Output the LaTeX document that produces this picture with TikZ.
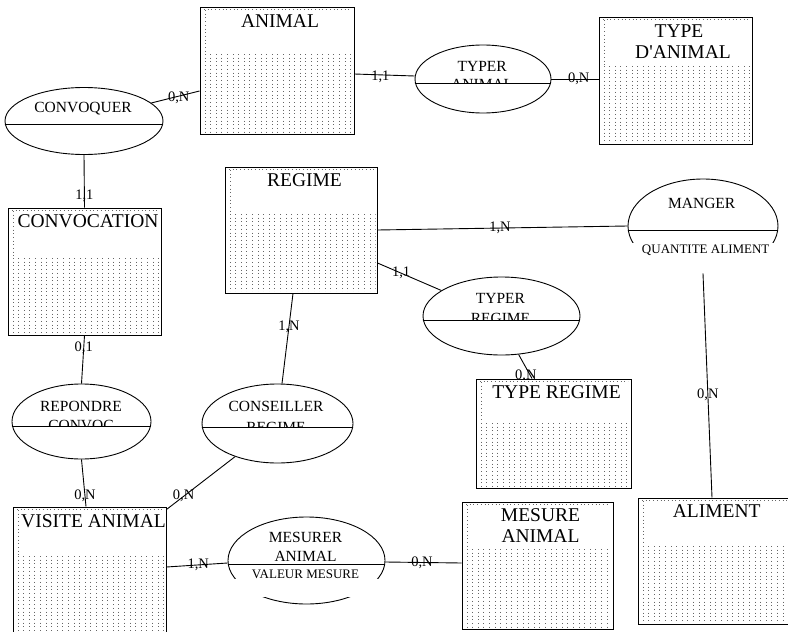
\documentclass[tikz,border=0pt]{standalone}
\usepackage{fontspec}
\setmainfont{Liberation Serif}[Ligatures=TeXOff]
\usetikzlibrary{shapes.geometric}
\tikzset{
  ent/.style={draw, rectangle, line width=1pt, inner sep=0pt, fill=white},
  dotline/.style={black!60, line width=0.9pt, dash pattern=on 0.9pt off 2.8pt},
  etitle/.style={anchor=base, inner sep=0pt, font=\fontsize{19.5}{21}\selectfont},
  assoc/.style={ellipse, line width=0.9pt, inner sep=0pt},
  atext/.style={anchor=base, inner sep=0pt, font=\fontsize{15.5}{17.5}\selectfont},
  attr/.style={anchor=base, inner sep=0pt, font=\fontsize{13}{15}\selectfont},
  card/.style={inner sep=0pt, font=\fontsize{14.5}{16}\selectfont},
  link/.style={line width=0.9pt},
  divider/.style={line width=0.9pt},
}
% x1 y1 x2 y2 ydot
\newcommand\entdots[5]{%
  \begin{scope}
    \clip ({#1+3},{#5}) rectangle ({#3-1.5},{#4-1.5});
    \foreach \i in {0,...,28} {\draw[dotline] ({#1+5+5.6*\i},{#5+1}) -- ({#1+5+5.6*\i},{#4});}
  \end{scope}
  \draw[dotline] ({#1+5},{#2+3}) -- ({#1+5},{#5});
  \draw[dotline] ({#1+4},{#2+2.5}) -- ({#3-3},{#2+2.5});
}
\begin{document}
\begin{tikzpicture}[x=1pt,y=-1pt]
\clip (0,0) rectangle (788,632);
\fill[white] (0,0) rectangle (788,632);

% ---------- entities ----------
\node[ent, minimum width=154pt, minimum height=127pt] (animal) at (277,70.5) {};
\entdots{200}{7}{354}{134}{53}
\node[etitle] (animalT) at (280,27.5) {ANIMAL};

\node[ent, minimum width=153pt, minimum height=127pt] (typedanimal) at (675.5,80.5) {};
\entdots{599}{17}{752}{144}{65}
\node[etitle] (typedanimalT1) at (679,37.5) {TYPE};
\node[etitle] (typedanimalT2) at (683,58.5) {D'ANIMAL};

\node[ent, minimum width=153pt, minimum height=127pt] (convocation) at (84.5,271.5) {};
\entdots{8}{208}{161}{335}{257}
\node[etitle] (convocationT) at (88,227.7) {CONVOCATION};

\node[ent, minimum width=152pt, minimum height=126pt] (regime) at (301,230) {};
\entdots{225}{167}{377}{293}{213}
\node[etitle] (regimeT) at (304.5,186) {REGIME};

\node[ent, minimum width=155pt, minimum height=109pt] (typeregime) at (553.5,433.5) {};
\entdots{476}{379}{631}{488}{422}
\node[etitle] (typeregimeT) at (556.5,398) {TYPE REGIME};

\node[ent, minimum width=153pt, minimum height=127pt] (visite) at (89.5,570.5) {};
\entdots{13}{507}{166}{634}{555}
\node[etitle] (visiteT) at (93.5,527) {VISITE ANIMAL};

\node[ent, minimum width=151pt, minimum height=127pt] (mesure) at (537.5,565.5) {};
\entdots{462}{502}{613}{629}{548}
\node[etitle] (mesureT1) at (540.5,521.7) {MESURE};
\node[etitle] (mesureT2) at (540.5,542.7) {ANIMAL};

\node[ent, minimum width=154pt, minimum height=126pt] (aliment) at (715,561) {};
\entdots{638}{498}{792}{624}{545}
\node[etitle] (alimentT) at (716.7,517) {ALIMENT};

% ---------- associations ----------
\node[assoc, draw, minimum width=158pt, minimum height=67pt] (convoquer) at (84,121) {};
\draw[divider] ([yshift=-3pt]convoquer.west) -- ([yshift=-3pt]convoquer.east);
\node[atext] (convoquerT) at (83,112) {CONVOQUER};

\node[assoc, draw, minimum width=136pt, minimum height=68pt] (typera) at (483,79) {};
\draw[divider] ([yshift=-4pt]typera.west) -- ([yshift=-4pt]typera.east);
\node[atext] (typeraT1) at (482.2,71) {TYPER};
\begin{scope}
  \clip (typera.west |- typera.north) rectangle ([yshift=-3.6pt]typera.east);
  \node[atext] (typeraT2) at (482.2,89.5) {ANIMAL};
\end{scope}

\node[assoc, minimum width=150pt, minimum height=94pt] (manger) at (703,226) {};
\begin{scope}
  \clip (600,150) rectangle (788,242);
  \draw[line width=0.9pt] (manger.center) ellipse [x radius=75pt, y radius=47pt];
\end{scope}
\draw[divider] ([yshift=-4pt]manger.west) -- ([yshift=-4pt]manger.east);
\node[atext] (mangerT) at (701.7,208) {MANGER};
\node[attr] (mangerA) at (705.7,253.3) {QUANTITE ALIMENT};

\node[assoc, draw, minimum width=157pt, minimum height=78pt] (typerr) at (501.5,316) {};
\draw[divider] ([yshift=-4pt]typerr.west) -- ([yshift=-4pt]typerr.east);
\node[atext] (typerrT1) at (500.5,303) {TYPER};
\begin{scope}
  \clip (typerr.west |- typerr.north) rectangle ([yshift=-3.6pt]typerr.east);
  \node[atext] (typerrT2) at (500.5,323.5) {REGIME};
\end{scope}

\node[assoc, draw, minimum width=139pt, minimum height=75pt] (repondre) at (81.5,421.5) {};
\draw[divider] ([yshift=-4.5pt]repondre.west) -- ([yshift=-4.5pt]repondre.east);
\node[atext] (repondreT1) at (81,411) {REPONDRE};
\begin{scope}
  \clip (repondre.west |- repondre.north) rectangle ([yshift=-4.1pt]repondre.east);
  \node[atext] (repondreT2) at (81,430.5) {CONVOC};
\end{scope}

\node[assoc, draw, minimum width=151pt, minimum height=79pt] (conseiller) at (277.5,423.5) {};
\draw[divider] ([yshift=-3.5pt]conseiller.west) -- ([yshift=-3.5pt]conseiller.east);
\node[atext] (conseillerT1) at (276,411) {CONSEILLER};
\begin{scope}
  \clip (conseiller.west |- conseiller.north) rectangle ([yshift=-3.1pt]conseiller.east);
  \node[atext] (conseillerT2) at (276,432) {REGIME};
\end{scope}

\node[assoc, minimum width=157pt, minimum height=87pt] (mesurer) at (306.5,560.5) {};
\begin{scope}
  \clip (200,500) rectangle (420,578);
  \draw[line width=0.9pt] (mesurer.center) ellipse [x radius=78.5pt, y radius=43.5pt];
\end{scope}
\begin{scope}
  \clip (200,597) rectangle (420,632);
  \draw[line width=0.9pt] (mesurer.center) ellipse [x radius=78.5pt, y radius=43.5pt];
\end{scope}
\draw[divider] ([yshift=-3.5pt]mesurer.west) -- ([yshift=-3.5pt]mesurer.east);
\node[atext] (mesurerT1) at (305.5,542) {MESURER};
\node[atext] (mesurerT2) at (305.5,561) {ANIMAL};
\node[attr] (mesurerA) at (305.5,578.3) {VALEUR MESURE};

% ---------- connectors ----------
\draw[link] (convoquer.15) -- node[card,pos=0.57,yshift=-2pt]{0,N} ([yshift=-20.5pt]animal.west);
\draw[link] ([yshift=-3.5pt]animal.east) -- node[card,pos=0.43,yshift=-1.5pt]{1,1} ([yshift=3pt]typera.west);
\draw[link] (typera.east) -- node[card,pos=0.58]{0,N} (typedanimal.west |- typera.east);
\draw[link] (convoquer.south) -- node[card,pos=0.78]{1,1} (convocation.north);
\draw[link] (convocation.south) -- node[card,pos=0.25]{0,1} (repondre.north);
\draw[link] (repondre.south) -- node[card,pos=0.78]{0,N} ([xshift=-3.5pt]visite.north);
\draw[link] (conseiller.218) -- node[card,pos=0.75]{0,N} ([yshift=-3pt]visite.north east);
\draw[link] ([xshift=-8pt]regime.south) -- node[card,pos=0.37]{1,N} ([xshift=4.5pt]conseiller.north);
\draw[link] (regime.east) -- node[card,pos=0.49]{1,N} (manger.west);
\draw[link] ([yshift=-33pt]regime.east) -- node[card,pos=0.37]{1,1} (typerr.157);
\begin{scope}
  \clip (0,0) rectangle (788,378.6);
  \draw[link] (typerr.294) -- node[card,pos=0.84,xshift=-4pt,yshift=-1pt]{0,N} ([xshift=-21.5pt]typeregime.north);
\end{scope}
\draw[link] (manger.south) -- node[card,pos=0.54]{0,N} ([xshift=-3pt]aliment.north);
\draw[link] ([yshift=3.5pt]visite.east) -- node[card,pos=0.52]{1,N} ([yshift=-2.5pt]mesurer.west);
\draw[link] ([yshift=-1.5pt]mesurer.east) -- node[card,pos=0.48]{0,N} ([yshift=2.5pt]mesure.west);
\end{tikzpicture}
\end{document}
